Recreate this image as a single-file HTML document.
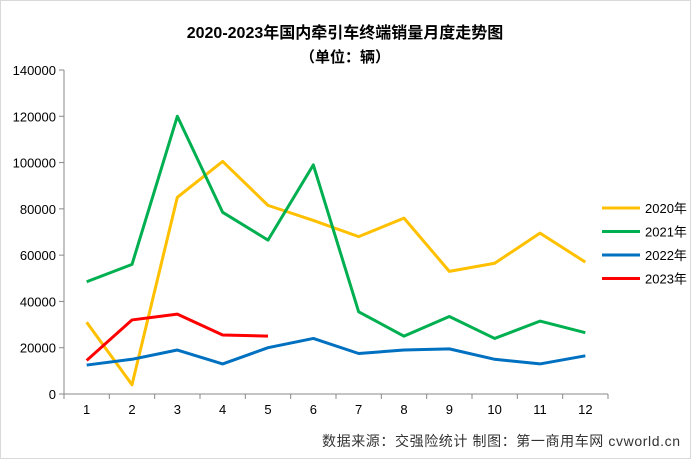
<!DOCTYPE html>
<html><head><meta charset="utf-8"><style>
body{margin:0;background:#fff;}
svg text{font-family:"Liberation Sans","Noto Sans CJK SC",sans-serif;}
</style></head><body>
<svg width="691" height="459" viewBox="0 0 691 459" xmlns="http://www.w3.org/2000/svg">
<rect x="0.5" y="0.5" width="690" height="458" fill="#fff" stroke="#d9d9d9"/>
<text x="345" y="38" text-anchor="middle" font-size="16" font-weight="bold" fill="#000">2020-2023年国内牵引车终端销量月度走势图</text>
<text x="345" y="62" text-anchor="middle" font-size="15" font-weight="bold" fill="#000">（单位：辆）</text>
<g id="axes"></g>
<g id="series"></g>
<g id="legend"></g>
<text x="322" y="446" font-size="14" fill="#333" textLength="358" lengthAdjust="spacing">数据来源：交强险统计  制图：第一商用车网 cvworld.cn</text>
</svg>
<script>
const categories=["1","2","3","4","5","6","7","8","9","10","11","12"];
const yTicks=[0,20000,40000,60000,80000,100000,120000,140000];
const s2020=[31000,4000,85000,100500,81500,75000,68000,76000,53000,56500,69500,57000];
const s2021=[48500,56000,120000,78500,66500,99000,35500,25000,33500,24000,31500,26500];
const s2022=[12500,15000,19000,13000,20000,24000,17500,19000,19500,15000,13000,16500];
const s2023=[14500,32000,34500,25500,25000];
const seriesNames=["2020年","2021年","2022年","2023年"];
const NS="http://www.w3.org/2000/svg";
const x0=64,x1=608,y0=394,y1=70,yMax=140000;
const step=(x1-x0)/categories.length;
const X=i=>x0+step*(i+0.5);
const Y=v=>y0-(v/yMax)*(y0-y1);
function mk(t,a,p){const e=document.createElementNS(NS,t);for(const k in a)e.setAttribute(k,a[k]);p.appendChild(e);return e;}
const ax=document.getElementById('axes');
let e=mk('line',{x1:x0,y1:y1,x2:x0,y2:y0,stroke:'#888'},ax);


e=mk('line',{x1:x0,y1:y0,x2:x1,y2:y0,stroke:'#888'},ax);


yTicks.forEach(v=>{
 let t=mk('line',{x1:x0-5,y1:Y(v),x2:x0,y2:Y(v),stroke:'#888'},ax);
 
 
 let l=mk('text',{x:x0-8,y:Y(v)+5,'text-anchor':'end','font-size':13,fill:'#000'},ax);
 l.textContent=v;
 
 
});
for(let i=0;i<=categories.length;i++){
 let t=mk('line',{x1:x0+step*i,y1:y0,x2:x0+step*i,y2:y0+5,stroke:'#888'},ax);
 
 
}
categories.forEach((c,i)=>{
 let l=mk('text',{x:X(i),y:y0+20,'text-anchor':'middle','font-size':13,fill:'#000'},ax);
 l.textContent=c;
 
 
});
const all=[s2020,s2021,s2022,s2023];
const colors=["#ffc000","#00b050","#0070c0","#ff0000"];
const sg=document.getElementById('series'),lg=document.getElementById('legend');
all.forEach((s,k)=>{
 let p=mk('polyline',{points:s.map((v,i)=>X(i)+','+Y(v)).join(' '),fill:'none',stroke:colors[k],'stroke-width':3,'stroke-linejoin':'round'},sg);
 
 
 const ly=208+k*23.5;
 let g=mk('g',{},lg);
 
 
 mk('line',{x1:602,y1:ly,x2:640,y2:ly,stroke:colors[k],'stroke-width':3},g);
 let t=mk('text',{x:645,y:ly+5,'font-size':13,fill:'#000'},g);
 t.textContent=seriesNames[k];
});
</script>
</body></html>
